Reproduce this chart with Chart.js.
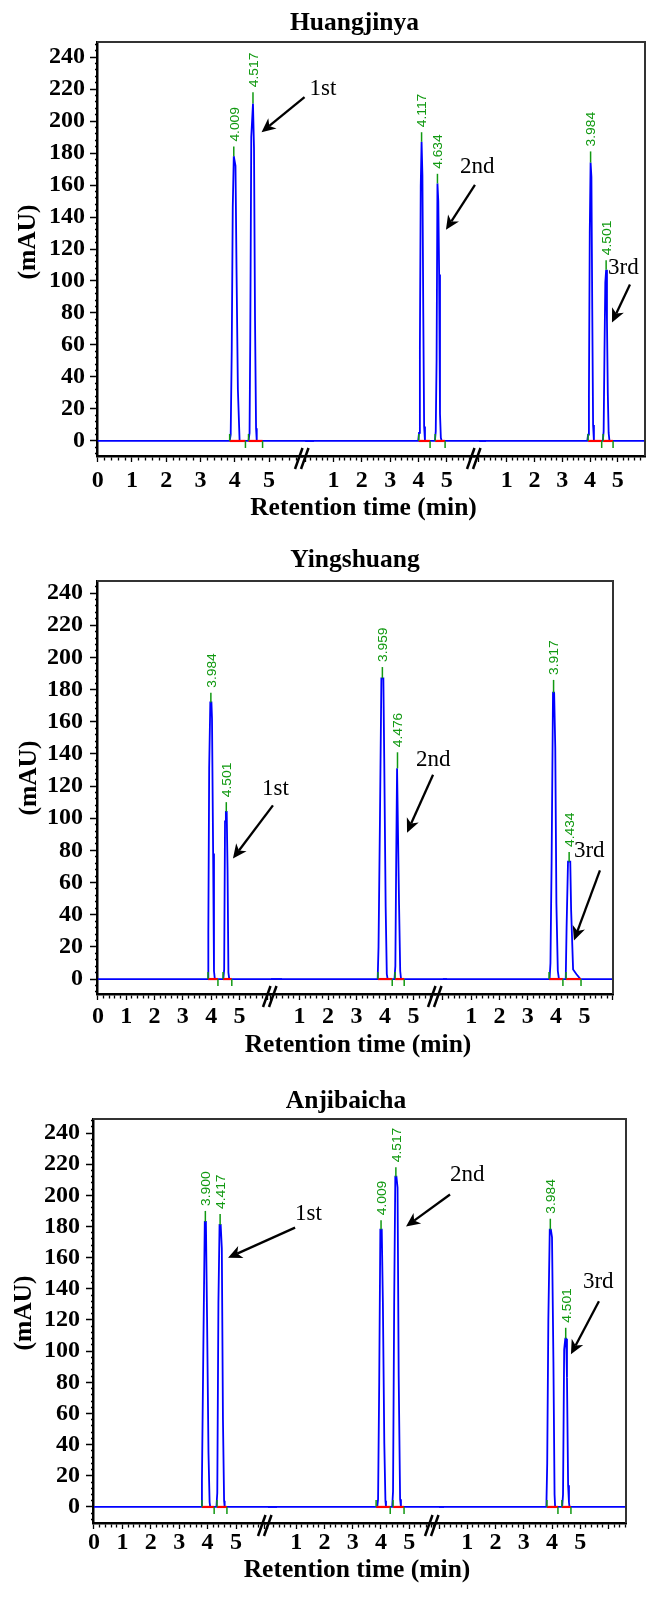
<!DOCTYPE html>
<html>
<head>
<meta charset="utf-8">
<script src="https://cdn.jsdelivr.net/npm/chart.js@4.4.0/dist/chart.umd.min.js"></script>
<style>
  body { margin: 0; background: #fff; width: 648px; height: 1597px; position: relative; }
  canvas { position: absolute; left: 0; }
</style>
</head>
<body>
<canvas id="c0" width="648" height="530" style="top:0px"></canvas>
<canvas id="c1" width="648" height="540" style="top:530px"></canvas>
<canvas id="c2" width="648" height="527" style="top:1070px"></canvas>
<script>
// ---------- data (time in min, signal in mAU) ----------
const panelTitles = ['Huangjinya', 'Yingshuang', 'Anjibaicha'];
const runLabels = ['1st', '2nd', '3rd'];
const segmentTickLabels = [['0', '1', '2', '3', '4', '5'], ['1', '2', '3', '4', '5'], ['1', '2', '3', '4', '5']];
const yTickLabels = ['0', '20', '40', '60', '80', '100', '120', '140', '160', '180', '200', '220', '240'];

// Huangjinya
const hj1Time = [0, 3.85, 3.88, 3.91, 3.94, 3.97, 4.02, 4.05, 4.09, 4.14, 4.40, 4.43, 4.45, 4.48, 4.53, 4.56, 4.59, 4.62, 4.64, 7];
const hj1Signal = [0, 0, 4, 56, 146, 178, 172, 107, 32, 0, 0, 5, 62, 190, 211, 183, 75, 8, 0, 0];
const hj2Time = [0, 3.99, 4.02, 4.05, 4.08, 4.11, 4.14, 4.17, 4.20, 4.23, 4.58, 4.61, 4.64, 4.67, 4.70, 4.73, 4.76, 4.79, 4.82, 7];
const hj2Signal = [0, 0, 5, 57, 159, 187, 166, 80, 9, 0, 0, 6, 51, 161, 150, 104, 17, 2, 0, 0];
const hj3Time = [0, 3.90, 3.93, 3.96, 3.99, 4.02, 4.05, 4.08, 4.11, 4.14, 4.46, 4.49, 4.52, 4.55, 4.58, 4.61, 4.64, 4.67, 4.70, 7];
const hj3Signal = [0, 0, 4, 28, 130, 174, 165, 82, 10, 0, 0, 6, 55, 99, 107, 75, 30, 5, 0, 0];
const hjPeakRt = [['4.009', '4.517'], ['4.117', '4.634'], ['3.984', '4.501']];
const hjApex = [[184, 218], [193, 167], [181, 113]];
const hjStart = [[3.85, 4.40], [4.01, 4.59], [3.93, 4.47]];
const hjEnd = [[4.31, 4.81], [4.41, 4.94], [4.42, 4.83]];
const hjArrowTip = [[4.78, 193], [4.97, 132], [4.79, 74]];

// Yingshuang
const ys1Time = [0, 3.89, 3.90, 3.93, 3.97, 4.01, 4.03, 4.07, 4.10, 4.13, 4.43, 4.46, 4.49, 4.52, 4.55, 4.58, 4.61, 4.64, 7];
const ys1Signal = [0, 0, 29, 131, 172, 172, 162, 78, 5, 0, 0, 6, 98, 104, 104, 68, 4, 0, 0];
const ys2Time = [0, 3.74, 3.77, 3.82, 3.87, 3.94, 3.97, 4.02, 4.06, 4.09, 4.33, 4.36, 4.39, 4.42, 4.45, 4.49, 4.53, 4.56, 7];
const ys2Signal = [0, 0, 20, 99, 187, 187, 137, 45, 3, 0, 0, 8, 75, 131, 131, 46, 5, 0, 0];
const ys3Time = [0, 3.77, 3.80, 3.84, 3.89, 3.93, 3.97, 4.01, 4.06, 4.10, 4.34, 4.37, 4.42, 4.50, 4.53, 4.60, 4.72, 4.86, 7];
const ys3Signal = [0, 0, 10, 72, 178, 178, 144, 47, 5, 0, 0, 32, 73, 73, 43, 6, 3, 0, 0];
const ysPeakRt = [['3.984', '4.501'], ['3.959', '4.476'], ['3.917', '4.434']];
const ysApex = [[178, 110], [194, 141], [186, 79]];
const ysStart = [[3.89, 4.42], [3.75, 4.35], [3.75, 4.35]];
const ysEnd = [[4.24, 4.73], [4.25, 4.67], [4.24, 4.88]];
const ysArrowTip = [[4.77, 75], [4.77, 91], [4.63, 24]];

// Anjibaicha
const aj1Time = [0, 3.77, 3.80, 3.85, 3.90, 3.94, 3.98, 4.03, 4.07, 4.09, 4.31, 4.34, 4.38, 4.42, 4.46, 4.50, 4.54, 4.58, 4.60, 7];
const aj1Signal = [0, 0, 17, 103, 183, 183, 122, 35, 3, 0, 0, 9, 131, 181, 181, 166, 56, 4, 0, 0];
const aj2Time = [0, 3.87, 3.90, 3.94, 3.98, 4.03, 4.07, 4.12, 4.16, 4.18, 4.40, 4.43, 4.47, 4.51, 4.55, 4.59, 4.63, 4.68, 4.71, 7];
const aj2Signal = [0, 0, 5, 80, 178, 178, 131, 41, 4, 0, 0, 10, 131, 212, 212, 205, 84, 5, 0, 0];
const aj3Time = [0, 3.80, 3.83, 3.87, 3.92, 3.96, 4.00, 4.05, 4.09, 4.11, 4.36, 4.39, 4.43, 4.47, 4.50, 4.53, 4.57, 4.60, 4.62, 7];
const aj3Signal = [0, 0, 28, 120, 178, 178, 173, 93, 8, 0, 0, 8, 101, 108, 108, 83, 14, 3, 0, 0];
const ajPeakRt = [['3.900', '4.417'], ['4.009', '4.517'], ['3.984', '4.501']];
const ajApex = [[190, 188], [184, 218], [185, 115]];
const ajStart = [[3.80, 4.33], [3.83, 4.43], [3.82, 4.35]];
const ajEnd = [[4.23, 4.68], [4.33, 4.82], [4.21, 4.67]];
const ajArrowTip = [[4.72, 160], [4.89, 180], [4.67, 98]];

// ---------- panel layout ----------
function runs(times, signals, rt, apex, start, end) {
  return times.map((t, i) => ({ time: t, signal: signals[i], rt: rt[i], apex: apex[i], start: start[i], end: end[i] }));
}

const panels = [
  {
    title: panelTitles[0], canvas: 'c0',
    pad: { top: 42, right: 3, bottom: 34, left: 0 }, yWidth: 97, yPad: 5, xPad: 4,
    yRange: [-9.4, 249.4],
    xRanges: [[-0.02, 5.96], [-0.11, 5.96], [-0.18, 5.98]], xWeights: [205, 172, 171],
    titlePos: [354.5, 30], xTitlePos: [363.5, 515], yTitlePos: [28, 242],
    arrowTail: [[43, -35], [29, -45], [18, -38]], notePos: [[5, -8], [-15, -18], [-22, -17]],
    arrowTip: hjArrowTip,
    runs: runs([hj1Time, hj2Time, hj3Time], [hj1Signal, hj2Signal, hj3Signal], hjPeakRt, hjApex, hjStart, hjEnd)
  },
  {
    title: panelTitles[1], canvas: 'c1',
    pad: { top: 51, right: 35, bottom: 36, left: 0 }, yWidth: 97, yPad: 7, xPad: 2,
    yRange: [-9.3, 247.5],
    xRanges: [[-0.035, 6.08], [-0.035, 5.75], [-0.28, 6.01]], xWeights: [173, 165, 178],
    titlePos: [355, 37], xTitlePos: [358, 522], yTitlePos: [29, 248],
    arrowTail: [[40, -53], [26, -58], [26, -70]], notePos: [[-11, -16], [-17, -15], [-26, -19]],
    arrowTip: ysArrowTip,
    runs: runs([ys1Time, ys2Time, ys3Time], [ys1Signal, ys2Signal, ys3Signal], ysPeakRt, ysApex, ysStart, ysEnd)
  },
  {
    title: panelTitles[2], canvas: 'c2',
    pad: { top: 49, right: 22, bottom: 34, left: 0 }, yWidth: 93, yPad: 6, xPad: -1,
    yRange: [-10.3, 249],
    xRanges: [[-0.035, 6.02], [-0.106, 5.81], [-0.25, 6.62]], xWeights: [172, 167, 194],
    titlePos: [346, 38], xTitlePos: [357, 507], yTitlePos: [24, 243],
    arrowTail: [[67, -30], [44, -32], [28, -53]], notePos: [[0, -14], [0, -20], [-16, -19]],
    arrowTip: ajArrowTip,
    runs: runs([aj1Time, aj2Time, aj3Time], [aj1Signal, aj2Signal, aj3Signal], ajPeakRt, ajApex, ajStart, ajEnd)
  }
];

const GREEN = '#119911';
const SERIF = "'Liberation Serif', 'Times New Roman', serif";

function onStep(v, step) {
  return Math.abs(v / step - Math.round(v / step)) < 1e-6;
}

function line(ctx, x1, y1, x2, y2) {
  ctx.beginPath();
  ctx.moveTo(x1, y1);
  ctx.lineTo(x2, y2);
  ctx.stroke();
}

function arrow(ctx, x1, y1, x2, y2) {
  const a = Math.atan2(y2 - y1, x2 - x1);
  const head = 14, half = 6.5, notch = 4;
  const bx = x2 - head * Math.cos(a), by = y2 - head * Math.sin(a);
  line(ctx, x1, y1, bx + notch * Math.cos(a), by + notch * Math.sin(a));
  ctx.beginPath();
  ctx.moveTo(x2, y2);
  ctx.lineTo(bx + half * Math.sin(a), by - half * Math.cos(a));
  ctx.lineTo(bx + notch * Math.cos(a), by + notch * Math.sin(a));
  ctx.lineTo(bx - half * Math.sin(a), by + half * Math.cos(a));
  ctx.closePath();
  ctx.fill();
}

// peak marks, labels, frame, breaks, arrows and titles
function makeDeco(p) {
  return {
    id: 'chromDeco',
    afterDatasetsDraw(chart) {
      const ctx = chart.ctx, y = chart.scales.y;
      const y0 = y.getPixelForValue(0);
      ctx.save();
      p.runs.forEach((run, r) => {
        const x = chart.scales['x' + r];
        run.rt.forEach((label, k) => {
          ctx.strokeStyle = GREEN;
          ctx.lineWidth = 1.5;
          const xs = x.getPixelForValue(run.start[k]);
          const xe = x.getPixelForValue(run.end[k]);
          line(ctx, xs, y0, xs, y0 - 7);
          line(ctx, xe, y0, xe, y0 + 7);
          // apex = highest sample inside the integration window
          let best = -Infinity;
          run.time.forEach((t, i) => {
            if (t >= run.start[k] - 0.02 && t <= run.end[k] && run.signal[i] > best) best = run.signal[i];
          });
          const tops = run.time.filter((t, i) => t >= run.start[k] - 0.02 && t <= run.end[k] && run.signal[i] === best);
          const xa = x.getPixelForValue((tops[0] + tops[tops.length - 1]) / 2);
          const ya = y.getPixelForValue(run.apex[k]);
          line(ctx, xa, y.getPixelForValue(best), xa, ya);
          ctx.save();
          ctx.translate(xa + 1.5, ya - 5);
          ctx.rotate(-Math.PI / 2);
          ctx.scale(1.15, 1);
          ctx.font = "12px 'Liberation Sans', Arial, sans-serif";
          ctx.fillStyle = GREEN;
          ctx.textAlign = 'left';
          ctx.textBaseline = 'middle';
          ctx.fillText(label, 0, 0);
          ctx.restore();
        });
      });
      ctx.restore();
    },
    afterDraw(chart) {
      const ctx = chart.ctx, area = chart.chartArea, y = chart.scales.y;
      ctx.save();
      // top and right frame
      ctx.strokeStyle = '#333';
      ctx.lineWidth = 2;
      ctx.beginPath();
      ctx.moveTo(area.left, area.top);
      ctx.lineTo(area.right, area.top);
      ctx.lineTo(area.right, area.bottom);
      ctx.stroke();
      // axis breaks
      ctx.strokeStyle = '#000';
      ctx.lineWidth = 2.5;
      [chart.scales.x0.right, chart.scales.x1.right].forEach(bx => {
        const by = area.bottom + 2.5;
        [-3, 3].forEach(d => line(ctx, bx + d - 4, by + 10.5, bx + d + 3.5, by - 10.5));
      });
      // run arrows
      ctx.fillStyle = '#000';
      ctx.lineWidth = 2.3;
      ctx.font = '23px ' + SERIF;
      ctx.textAlign = 'left';
      ctx.textBaseline = 'middle';
      p.arrowTip.forEach((tip, r) => {
        const tx = chart.scales['x' + r].getPixelForValue(tip[0]);
        const ty = y.getPixelForValue(tip[1]);
        const sx = tx + p.arrowTail[r][0], sy = ty + p.arrowTail[r][1];
        arrow(ctx, sx, sy, tx, ty);
        ctx.fillText(runLabels[r], sx + p.notePos[r][0], sy + p.notePos[r][1]);
      });
      // titles
      ctx.font = 'bold 25.5px ' + SERIF;
      ctx.textAlign = 'center';
      ctx.textBaseline = 'alphabetic';
      ctx.fillText(p.title, p.titlePos[0], p.titlePos[1]);
      ctx.fillText('Retention time (min)', p.xTitlePos[0], p.xTitlePos[1]);
      ctx.translate(p.yTitlePos[0], p.yTitlePos[1]);
      ctx.rotate(-Math.PI / 2);
      ctx.textBaseline = 'middle';
      ctx.fillText('(mAU)', 0, 0);
      ctx.restore();
    }
  };
}

function xScale(p, r) {
  const labels = segmentTickLabels[r];
  return {
    type: 'linear', position: 'bottom', stack: 'time', stackWeight: p.xWeights[r],
    min: p.xRanges[r][0], max: p.xRanges[r][1],
    afterFit: s => { s.height = 40; },
    afterBuildTicks: s => {
      s.ticks = s.ticks.filter(t => t.value >= s.min - 1e-9 && t.value <= s.max + 1e-9 && onStep(t.value, 0.2));
    },
    ticks: {
      stepSize: 0.2, includeBounds: false, autoSkip: false, maxRotation: 0, minRotation: 0,
      padding: p.xPad, color: '#000',
      font: { family: SERIF, weight: 'bold', size: 24 },
      callback: v => (onStep(v, 1) && labels.includes(String(Math.round(v)))) ? String(Math.round(v)) : ''
    },
    grid: {
      drawOnChartArea: false, drawTicks: true, tickLength: 6, tickColor: '#000', tickWidth: 1.3,
      tickBorderDash: c => (c.tick && onStep(c.tick.value, 1)) ? [] : [3, 20]
    },
    border: { display: true, color: '#000', width: 2.5 }
  };
}

panels.forEach(p => {
  const datasets = [];
  p.runs.forEach((run, r) => {
    datasets.push({
      data: run.time.map((t, i) => ({ x: t, y: run.signal[i] })),
      xAxisID: 'x' + r, yAxisID: 'y',
      borderColor: '#0000ff', borderWidth: 1.8, pointRadius: 0, tension: 0, order: 1,
      // let the baseline run on across the axis break into the next segment
      clip: { left: 1, top: 2, bottom: 2, right: r < 2 ? 12 : 0 }
    });
    run.start.forEach((s, k) => {
      datasets.push({
        data: [{ x: s, y: 0 }, { x: run.end[k], y: 0 }],
        xAxisID: 'x' + r, yAxisID: 'y',
        borderColor: '#ff0000', borderWidth: 2.2, pointRadius: 0, order: 0
      });
    });
  });

  new Chart(document.getElementById(p.canvas), {
    type: 'line',
    data: { datasets: datasets },
    options: {
      responsive: false,
      animation: false,
      events: [],
      layout: { padding: p.pad },
      plugins: { legend: { display: false }, tooltip: { enabled: false }, title: { display: false } },
      scales: {
        y: {
          type: 'linear', position: 'left', min: p.yRange[0], max: p.yRange[1],
          afterFit: s => { s.width = p.yWidth; },
          afterBuildTicks: s => { s.ticks = s.ticks.filter(t => onStep(t.value, 4)); },
          ticks: {
            stepSize: 4, includeBounds: false, autoSkip: false, padding: p.yPad, color: '#000',
            font: { family: SERIF, weight: 'bold', size: 24 },
            callback: v => (onStep(v, 1) && yTickLabels.includes(String(Math.round(v)))) ? String(Math.round(v)) : ''
          },
          grid: {
            drawOnChartArea: false, drawTicks: true, tickLength: 7, tickColor: '#000', tickWidth: 1.5,
            tickBorderDash: c => (c.tick && onStep(c.tick.value, 20)) ? [] : [0, 5, 2, 20]
          },
          border: { display: true, color: '#000', width: 2.5 }
        },
        x0: xScale(p, 0),
        x1: xScale(p, 1),
        x2: xScale(p, 2)
      }
    },
    plugins: [makeDeco(p)]
  });
});
</script>
</body>
</html>
